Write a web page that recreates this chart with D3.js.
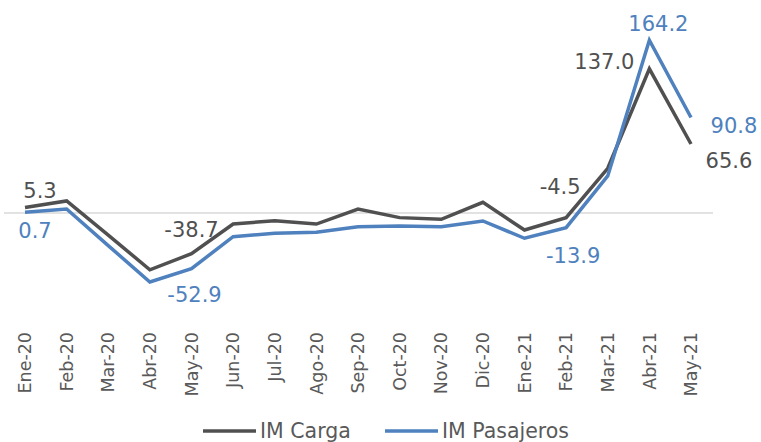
<!DOCTYPE html>
<html>
<head>
<meta charset="utf-8">
<script src="https://cdn.jsdelivr.net/npm/d3@7"></script>
<style>
  body { margin: 0; background: #fff; }
  text { font-family: 'DejaVu Sans', sans-serif; }
</style>
</head>
<body>
<div id="vis"></div>
<script>
var width = 761,
  height = 442;

// Data
var months = [ 'Ene-20', 'Feb-20', 'Mar-20', 'Abr-20', 'May-20', 'Jun-20', 'Jul-20', 'Ago-20',
  'Sep-20', 'Oct-20', 'Nov-20', 'Dic-20', 'Ene-21', 'Feb-21', 'Mar-21', 'Abr-21', 'May-21' ];

var carga = [ 5.3, 11.5, -21, -54, -38.7, -10.5, -7.3, -10.5, 3.8, -4.4, -6, 10.2, -16.2, -4.5, 42.5, 137.0, 65.6 ];

var pasajeros = [ 0.7, 3.8, -31, -65.6, -52.9, -22.5, -19.3, -18.4, -13, -12.4, -13, -7.6, -24, -13.9, 35.2, 164.2, 90.8 ];

// labels shown: [index, dx, dy]
var cargaLabels = [ [ 0, 15, -9 ], [ 4, 0, -17 ], [ 13, -6, -24 ], [ 15, -45, 0 ], [ 16, 38, 24 ] ];
var pasajerosLabels = [ [ 0, 10, 26 ], [ 4, 3, 33 ], [ 13, 7, 35 ], [ 15, 9, -9 ], [ 16, 43, 16 ] ];

var series = [
  { name: 'IM Carga', values: carga, color: '#505050', labels: cargaLabels },
  { name: 'IM Pasajeros', values: pasajeros, color: '#4e81bd', labels: pasajerosLabels }
];

/* Scales */

var x = d3.scalePoint()
  .domain( months )
  .range( [ 25, 691 ] );

var y = d3.scaleLinear()
  .domain( [ -80, 180 ] )
  .range( [ 213 + 80 * 1.052, 213 - 180 * 1.052 ] );

var line = d3.line()
  .x( ( d, i ) => x( months[ i ] ) )
  .y( d => y( d ) );

/* Drawing */

var svg = d3.select( '#vis' ).append( 'svg' )
  .attr( 'width', width )
  .attr( 'height', height );

// zero line
svg.append( 'line' )
  .attr( 'x1', 4 )
  .attr( 'x2', 713 )
  .attr( 'y1', y( 0 ) )
  .attr( 'y2', y( 0 ) )
  .attr( 'stroke', '#d9d9d9' )
  .attr( 'stroke-width', 1.5 );

// x axis labels
svg.selectAll( 'text.month' )
  .data( months )
  .enter().append( 'text' )
    .attr( 'class', 'month' )
    .attr( 'transform', d => 'translate(' + x( d ) + ',332)rotate(-90)' )
    .attr( 'text-anchor', 'end' )
    .attr( 'dy', '0.35em' )
    .attr( 'fill', '#595959' )
    .style( 'font-size', '17.5px' )
    .text( d => d );

// lines
svg.selectAll( 'path.serie' )
  .data( series )
  .enter().append( 'path' )
    .attr( 'class', 'serie' )
    .attr( 'd', d => line( d.values ) )
    .attr( 'fill', 'none' )
    .attr( 'stroke', d => d.color )
    .attr( 'stroke-width', 3.5 )
    .attr( 'stroke-linejoin', 'miter' );

// data labels
series.forEach( s => {
  svg.selectAll( null )
    .data( s.labels )
    .enter().append( 'text' )
      .attr( 'x', d => x( months[ d[ 0 ] ] ) + d[ 1 ] )
      .attr( 'y', d => y( s.values[ d[ 0 ] ] ) + d[ 2 ] )
      .attr( 'text-anchor', 'middle' )
      .attr( 'fill', s.color )
      .style( 'font-size', '21px' )
      .text( d => s.values[ d[ 0 ] ].toFixed( 1 ) );
} );

// legend
var legend = svg.selectAll( 'g.legend' )
  .data( series )
  .enter().append( 'g' )
    .attr( 'class', 'legend' )
    .attr( 'transform', ( d, i ) => 'translate(' + [ 203, 385 ][ i ] + ',431)' );

legend.append( 'line' )
  .attr( 'x1', 0 )
  .attr( 'x2', 53 )
  .attr( 'stroke', d => d.color )
  .attr( 'stroke-width', 3.5 );

legend.append( 'text' )
  .attr( 'x', 57 )
  .attr( 'dy', '0.35em' )
  .attr( 'fill', '#595959' )
  .style( 'font-size', '20.5px' )
  .text( d => d.name );
</script>
</body>
</html>
